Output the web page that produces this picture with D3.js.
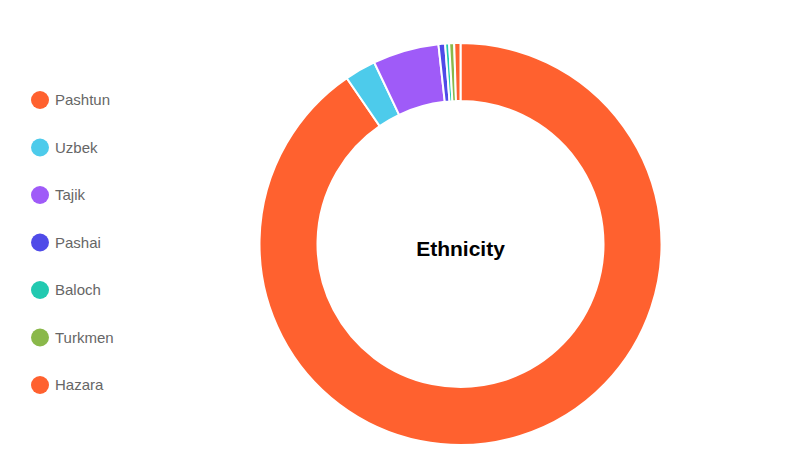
<!DOCTYPE html>
<html><head><meta charset="utf-8">
<script src="https://cdn.jsdelivr.net/npm/d3@7"></script>
<style>body{margin:0;background:#fff;} svg{display:block;}</style>
</head><body>
<svg id="c" width="795" height="472"></svg>
<script>
const categories = ["Pashtun","Uzbek","Tajik","Pashai","Baloch","Turkmen","Hazara"];
const values = [90.3, 2.5, 5.3, 0.53, 0.32, 0.4, 0.5];
const colors = ["#FF612F","#4DCBEB","#9F5BF8","#4F4BE8","#22C9B0","#8AB84A","#FF612F"];
const title = "Ethnicity";

const svg = d3.select("#c");
const cx = 460.5, cy = 244, rOuter = 201, rInner = 143;
const data = categories.map((c,i)=>({name:c, value:values[i], color:colors[i]}));
const pie = d3.pie().value(d=>d.value).sort(null);
const arc = d3.arc().innerRadius(rInner).outerRadius(rOuter);
const g = svg.append("g").attr("transform",`translate(${cx},${cy})`);
g.selectAll("path").data(pie(data)).join("path")
  .attr("d",arc).attr("fill",d=>d.data.color)
  .attr("stroke","#fff").attr("stroke-width",2);
g.append("text").attr("text-anchor","middle").attr("y",12)
  .style("font-family","'Liberation Sans', Arial, sans-serif")
  .style("font-weight","bold").style("font-size","21px").attr("fill","#000")
  .text(title);

const legendY = d3.scalePoint().domain(categories).range([100,385]);
const lg = svg.append("g");
const items = lg.selectAll("g").data(data).join("g")
  .attr("transform",d=>`translate(40,${legendY(d.name)})`);
items.append("circle").attr("r",9).attr("fill",d=>d.color);
items.append("text").attr("x",15).attr("dy","0.35em")
  .style("font-family","'Liberation Sans', Arial, sans-serif")
  .style("font-size","15px").attr("fill","#666").text(d=>d.name);
</script>
</body></html>
